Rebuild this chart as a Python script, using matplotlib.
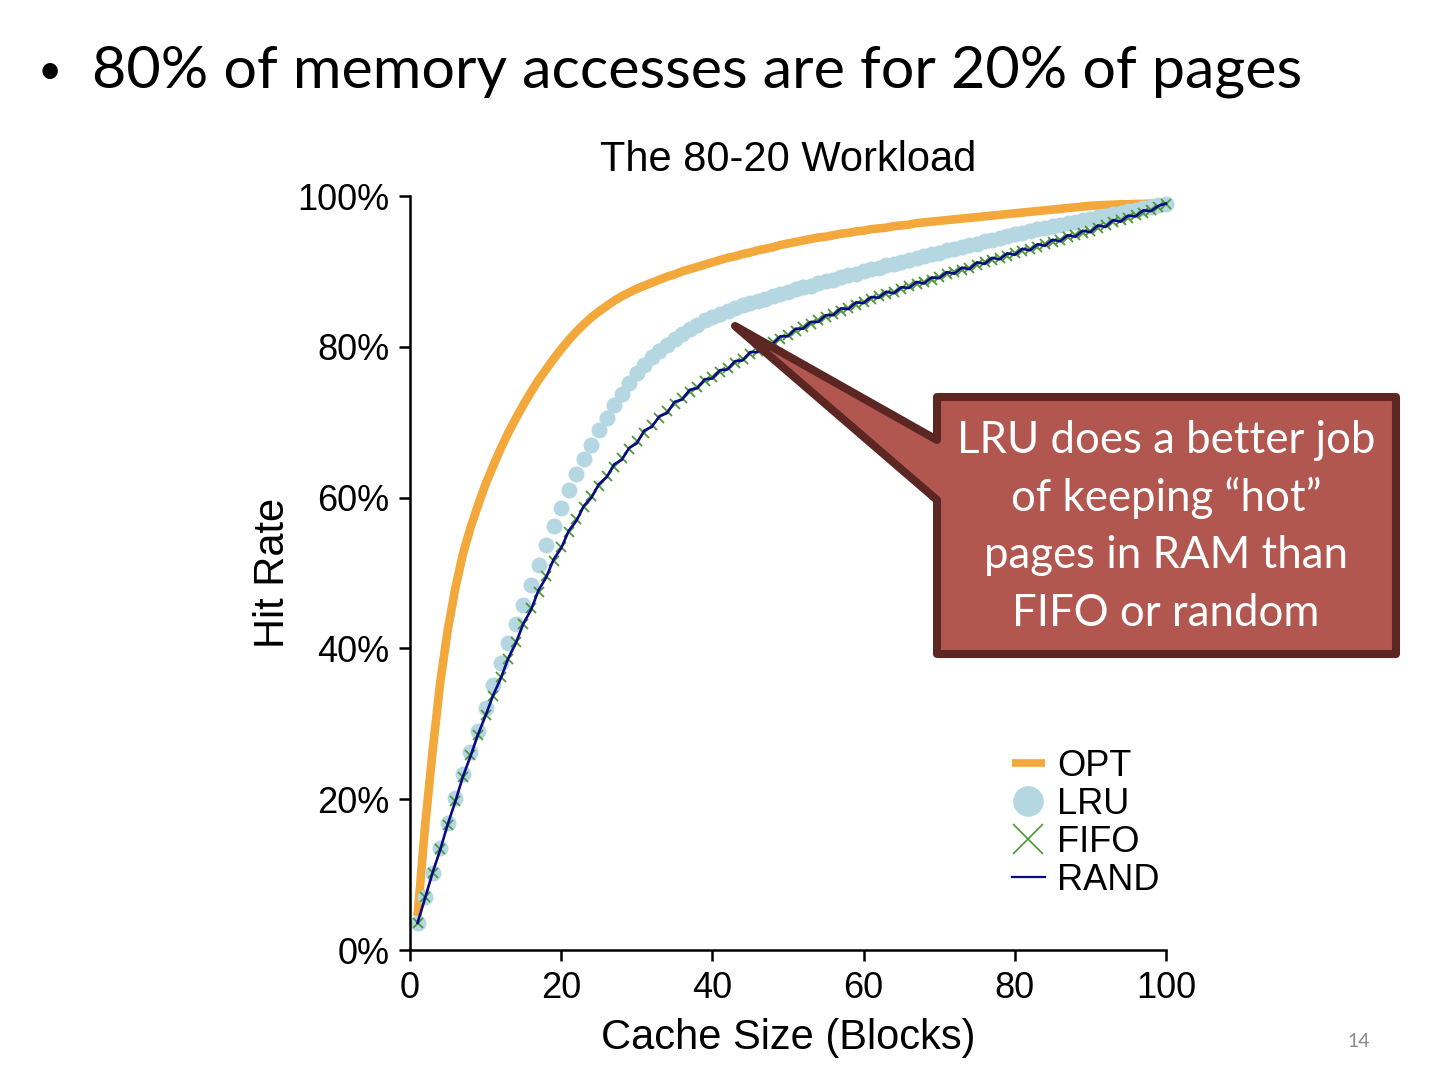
import numpy as np
import matplotlib.pyplot as plt
from matplotlib.lines import Line2D
from matplotlib.patches import Polygon

# cache size (blocks) and hit rate (%) for each policy
cache_sizes = np.arange(1, 101)

opt_hits = [
    4.5, 16.5, 26.5, 35.5, 42.5, 48.0, 52.5, 56.0, 59.0, 61.8,
    64.2, 66.5, 68.6, 70.5, 72.3, 74.0, 75.6, 77.0, 78.4, 79.7,
    80.9, 82.0, 83.0, 83.9, 84.7, 85.4, 86.1, 86.7, 87.2, 87.7,
    88.1, 88.5, 88.9, 89.3, 89.6, 90.0, 90.3, 90.6, 90.9, 91.2,
    91.5, 91.8, 92.0, 92.3, 92.5, 92.8, 93.0, 93.2, 93.5, 93.7,
    93.9, 94.1, 94.3, 94.5, 94.6, 94.8, 95.0, 95.1, 95.3, 95.4,
    95.6, 95.7, 95.8, 96.0, 96.1, 96.2, 96.4, 96.5, 96.6, 96.7,
    96.8, 96.9, 97.0, 97.1, 97.2, 97.3, 97.4, 97.5, 97.6, 97.7,
    97.8, 97.9, 98.0, 98.1, 98.2, 98.3, 98.4, 98.5, 98.6, 98.7,
    98.75, 98.8, 98.85, 98.9, 98.9, 98.95, 98.95, 99.0, 99.0, 99.0,
]

lru_hits = [
    3.6, 7.0, 10.2, 13.5, 16.8, 20.2, 23.4, 26.3, 29.1, 32.1,
    35.1, 38.1, 40.7, 43.2, 45.8, 48.4, 51.0, 53.7, 56.2, 58.6,
    61.0, 63.1, 65.1, 67.0, 68.9, 70.6, 72.3, 73.8, 75.2, 76.5,
    77.6, 78.6, 79.5, 80.3, 81.0, 81.7, 82.3, 82.9, 83.5, 84.0,
    84.4, 84.8, 85.1, 85.5, 85.8, 86.1, 86.4, 86.7, 87.0, 87.3,
    87.6, 87.9, 88.1, 88.4, 88.7, 88.9, 89.2, 89.5, 89.7, 90.0,
    90.3, 90.5, 90.8, 91.0, 91.3, 91.5, 91.8, 92.0, 92.3, 92.5,
    92.8, 93.0, 93.3, 93.5, 93.7, 94.0, 94.2, 94.4, 94.7, 94.9,
    95.1, 95.4, 95.6, 95.8, 96.0, 96.2, 96.4, 96.6, 96.8, 97.0,
    97.2, 97.4, 97.6, 97.8, 98.0, 98.2, 98.4, 98.6, 98.8, 99.0,
]

fifo_hits = [
    3.6, 7.0, 10.2, 13.4, 16.6, 19.8, 22.9, 25.8, 28.5, 31.2,
    33.7, 36.2, 38.6, 40.9, 43.2, 45.3, 47.5, 49.6, 51.6, 53.5,
    55.4, 57.1, 58.7, 60.2, 61.6, 62.9, 64.1, 65.3, 66.4, 67.5,
    68.6, 69.6, 70.6, 71.5, 72.4, 73.2, 74.0, 74.7, 75.4, 76.0,
    76.6, 77.2, 77.8, 78.4, 79.0, 79.5, 80.1, 80.6, 81.1, 81.6,
    82.1, 82.6, 83.0, 83.5, 83.9, 84.4, 84.8, 85.2, 85.6, 86.0,
    86.3, 86.7, 87.0, 87.3, 87.6, 88.0, 88.3, 88.6, 88.9, 89.3,
    89.6, 89.9, 90.2, 90.5, 90.9, 91.2, 91.5, 91.8, 92.1, 92.4,
    92.7, 93.0, 93.3, 93.6, 93.9, 94.2, 94.5, 94.8, 95.1, 95.4,
    95.8, 96.1, 96.5, 96.8, 97.1, 97.5, 97.8, 98.2, 98.6, 99.0,
]

rand_hits = [
    3.6, 6.9, 10.3, 13.3, 16.7, 19.7, 23.0, 25.7, 28.6, 31.1,
    33.8, 36.0, 38.7, 40.7, 43.3, 45.1, 47.7, 49.4, 51.8, 53.3,
    55.6, 56.9, 58.9, 60.0, 61.8, 62.7, 64.4, 65.0, 66.6, 67.2,
    68.9, 69.4, 70.8, 71.2, 72.7, 73.0, 74.3, 74.5, 75.7, 75.8,
    76.9, 77.0, 78.1, 78.2, 79.3, 79.3, 80.4, 80.4, 81.4, 81.4,
    82.4, 82.4, 83.3, 83.3, 84.2, 84.2, 85.1, 85.0, 85.9, 85.8,
    86.6, 86.5, 87.3, 87.1, 87.9, 87.8, 88.6, 88.4, 89.2, 89.1,
    89.9, 89.7, 90.5, 90.3, 91.2, 91.0, 91.8, 91.6, 92.4, 92.2,
    93.0, 92.8, 93.6, 93.4, 94.2, 94.0, 94.8, 94.6, 95.4, 95.2,
    96.1, 95.9, 96.8, 96.6, 97.4, 97.3, 98.1, 98.0, 98.7, 99.0,
]

x_ticks = [0, 20, 40, 60, 80, 100]
y_ticks = [0, 20, 40, 60, 80, 100]

OPT_C = '#F2A83A'
LRU_C = '#B4D7E2'
FIFO_C = '#4C9A35'
RAND_C = '#0A0A86'

chart_font = 'Liberation Sans'
slide_font = 'Lato'

W, H = 1454, 1084
fig = plt.figure(figsize=(W / 100, H / 100), dpi=100)


def px(x, y):
    # pixel position -> figure fraction
    return x / W, 1 - y / H


ax = fig.add_axes([410 / W, 1 - 950 / H, 756 / W, 754 / H])

ax.plot(cache_sizes, opt_hits, color=OPT_C, lw=6.2, solid_capstyle='butt', clip_on=False)
ax.plot(cache_sizes, lru_hits, 'o', color=LRU_C, ms=11.5, mew=0, clip_on=False)
ax.plot(cache_sizes, fifo_hits, 'x', color=FIFO_C, ms=7.5, mew=1.3, clip_on=False)
ax.plot(cache_sizes, rand_hits, '-', color=RAND_C, lw=1.9, clip_on=False)

ax.set_xlim(0, 100)
ax.set_ylim(0, 100)
ax.set_xticks(x_ticks)
ax.set_yticks(y_ticks)
ax.set_yticklabels([f'{v}%' for v in y_ticks])
for s in ['top', 'right']:
    ax.spines[s].set_visible(False)
for s in ['left', 'bottom']:
    ax.spines[s].set_linewidth(1.8)
ax.tick_params(direction='out', length=8, width=1.8, labelsize=26, pad=7)
for lbl in ax.get_xticklabels() + ax.get_yticklabels():
    lbl.set_fontfamily(chart_font)

ax.set_title('The 80-20 Workload', fontsize=30, family=chart_font, pad=18)
ax.set_xlabel('Cache Size (Blocks)', fontsize=30, family=chart_font, labelpad=9)
ax.set_ylabel('Hit Rate', fontsize=30, family=chart_font, labelpad=3)

handles = [
    Line2D([], [], color=OPT_C, lw=5.5, solid_capstyle='butt'),
    Line2D([], [], ls='none', marker='o', color=LRU_C, ms=22, mew=0),
    Line2D([], [], ls='none', marker='x', color=FIFO_C, ms=22, mew=1.2),
    Line2D([], [], color=RAND_C, lw=1.6),
]
ax.legend(handles, ['OPT', 'LRU', 'FIFO', 'RAND'], loc='upper left',
          bbox_to_anchor=px(1012, 749), bbox_transform=fig.transFigure,
          frameon=False, borderpad=0, borderaxespad=0, handlelength=0.9,
          handletextpad=0.35, labelspacing=0.08,
          prop={'family': chart_font, 'size': 26})

# slide headline
fig.text(*px(38, 84), '\u2022', fontsize=30, family=slide_font, va='baseline')
fig.text(*px(92, 88), '80% of memory accesses are for 20% of pages',
         fontsize=42.7, family=slide_font, va='baseline')

# callout box with pointer
shape = [(937, 397), (1396, 397), (1396, 654), (937, 654), (937, 500),
         (735, 326), (937, 440)]
fig.patches.append(Polygon([px(*p) for p in shape], closed=True,
                           transform=fig.transFigure, facecolor='#B1574F',
                           edgecolor='#5C2623', lw=5.8, joinstyle='round'))
callout_lines = ['LRU does a better job', 'of keeping \u201chot\u201d',
                 'pages in RAM than', 'FIFO or random']
for i, line in enumerate(callout_lines):
    fig.text(*px(1166, 453 + 57.7 * i), line, fontsize=31.5, family=slide_font,
             color='white', ha='center', va='baseline')

fig.text(*px(1359, 1047), '14', fontsize=14, family=slide_font,
         color='#8A8A8A', ha='center', va='baseline')

fig.savefig('out.png', dpi=100)
